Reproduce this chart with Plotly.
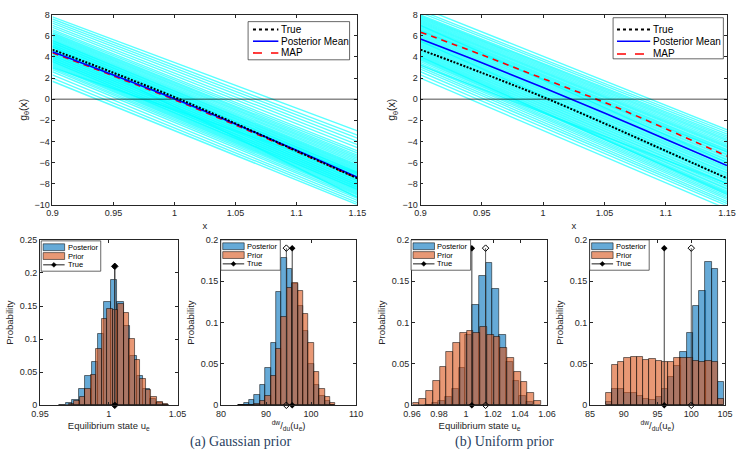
import plotly.graph_objects as go

# ---- top panels: sampled g_theta(x) curves ----
x_grid = [0.9, 0.95, 1.0, 1.05, 1.1, 1.15]
g_true = [4.7, 2.5, 0.2, -2.3, -4.9, -7.5]
g_mean_gauss = [4.5, 2.3, 0.05, -2.35, -4.85, -7.4]
g_map_gauss = [4.4, 2.2, -0.05, -2.45, -4.95, -7.5]
g_mean_unif = [5.7, 3.45, 1.1, -1.3, -3.8, -6.3]
g_map_unif = [6.35, 4.2, 1.95, -0.3, -2.8, -5.4]

# value of each posterior sample at x=0.9 and at x=1.15
samp_start_gauss = [1.7, 2.0, 2.3, 2.6, 2.8, 2.95, 3.1, 3.2, 3.3, 3.4,
                    3.5, 3.55, 3.6, 3.7, 3.75, 3.8, 3.9, 3.95, 4.0, 4.1,
                    4.15, 4.2, 4.3, 4.35, 4.4, 4.5, 4.55, 4.6, 4.7, 4.75,
                    4.8, 4.9, 4.95, 5.0, 5.1, 5.15, 5.2, 5.3, 5.35, 5.4,
                    5.5, 5.55, 5.6, 5.7, 5.8, 5.9, 6.0, 6.1, 6.2, 6.3,
                    6.45, 6.6, 6.8, 7.0, 7.2, 7.4, 7.6, 7.8, 3.0, 5.0]
samp_end_gauss = [-10.0, -9.8, -9.6, -9.4, -9.25, -9.1, -9.0, -8.9, -8.8, -8.7,
                  -8.6, -8.55, -8.5, -8.4, -8.35, -8.3, -8.2, -8.15, -8.1, -8.0,
                  -7.95, -7.9, -7.8, -7.75, -7.7, -7.6, -7.55, -7.5, -7.4, -7.35,
                  -7.3, -7.2, -7.15, -7.1, -7.0, -6.95, -6.9, -6.8, -6.7, -6.6,
                  -6.5, -6.4, -6.3, -6.2, -6.05, -5.9, -5.75, -5.6, -5.45, -5.3,
                  -5.1, -4.9, -4.6, -4.3, -4.0, -3.7, -3.4, -3.0, -7.0, -9.3]
samp_start_unif = [2.0, 2.3, 2.6, 2.85, 3.05, 3.25, 3.4, 3.55, 3.7, 3.8,
                   3.9, 4.0, 4.1, 4.2, 4.3, 4.4, 4.5, 4.6, 4.7, 4.8,
                   4.9, 5.0, 5.1, 5.2, 5.3, 5.4, 5.5, 5.6, 5.7, 5.8,
                   5.9, 6.0, 6.1, 6.2, 6.3, 6.4, 6.5, 6.6, 6.7, 6.8,
                   6.9, 7.0, 7.1, 7.2, 7.3, 7.4, 7.5, 7.6, 7.7, 7.8,
                   7.9, 8.0, 8.2, 8.4, 8.7, 4.0, 5.5, 6.5, 7.0, 3.2]
samp_end_unif = [-10.4, -10.1, -9.9, -9.7, -9.5, -9.35, -9.2, -9.05, -8.9, -8.8,
                 -8.7, -8.55, -8.45, -8.3, -8.2, -8.05, -7.95, -7.8, -7.7, -7.55,
                 -7.45, -7.3, -7.2, -7.05, -6.95, -6.8, -6.7, -6.55, -6.45, -6.3,
                 -6.2, -6.05, -5.95, -5.8, -5.7, -5.55, -5.45, -5.3, -5.2, -5.05,
                 -4.95, -4.85, -4.75, -4.6, -4.5, -4.4, -4.25, -4.1, -3.95, -3.8,
                 -3.65, -3.5, -3.3, -3.1, -2.9, -9.0, -7.5, -5.0, -6.0, -8.0]

# ---- bottom panels: histograms (probability per bin) ----
ue_g_post_bins = [0.9663, 0.9710, 0.9757, 0.9804, 0.9851, 0.9898, 0.9945, 0.9992, 1.0039,
                  1.0086, 1.0133, 1.0180, 1.0227, 1.0274, 1.0321, 1.0368, 1.0415]
ue_g_post = [0.001, 0.003, 0.008, 0.025, 0.045, 0.065, 0.108, 0.157, 0.19,
             0.157, 0.12, 0.075, 0.045, 0.025, 0.01, 0.004, 0.001]
ue_g_prior_bins = [0.973, 0.977, 0.981, 0.985, 0.989, 0.993, 0.997, 1.001, 1.005,
                   1.009, 1.013, 1.017, 1.021, 1.025, 1.029, 1.033, 1.037, 1.041]
ue_g_prior = [0.002, 0.006, 0.012, 0.025, 0.046, 0.085, 0.13, 0.145, 0.144,
              0.153, 0.139, 0.1, 0.068, 0.04, 0.024, 0.012, 0.005, 0.002]

du_g_bins = [84.4, 85.6, 86.8, 88.0, 89.2, 90.4, 91.6, 92.8, 94.0, 95.2,
             96.4, 97.6, 98.8, 100.0, 101.2, 102.4, 103.6, 104.8]
du_g_post = [0.001, 0.003, 0.007, 0.013, 0.025, 0.045, 0.075, 0.137, 0.178, 0.165,
             0.147, 0.12, 0.09, 0.05, 0.025, 0.012, 0.005, 0.001]
du_g_prior = [0.0, 0.0, 0.001, 0.002, 0.005, 0.012, 0.035, 0.068, 0.107, 0.142,
              0.148, 0.138, 0.111, 0.075, 0.04, 0.02, 0.01, 0.003]

ue_u_post_bins = [0.972, 0.977, 0.982, 0.987, 0.992, 0.997, 1.002, 1.007, 1.012,
                  1.017, 1.022, 1.027, 1.032, 1.037, 1.042, 1.047]
ue_u_post = [0.001, 0.003, 0.005, 0.01, 0.02, 0.045, 0.085, 0.121, 0.157,
             0.172, 0.141, 0.085, 0.053, 0.03, 0.012, 0.004]
ue_u_prior_bins = [0.963, 0.968, 0.973, 0.978, 0.983, 0.988, 0.993, 0.998, 1.003, 1.008,
                   1.013, 1.018, 1.023, 1.028, 1.033, 1.038, 1.043, 1.048, 1.053]
ue_u_prior = [0.003, 0.008, 0.017, 0.03, 0.047, 0.064, 0.075, 0.087, 0.09, 0.088,
              0.095, 0.085, 0.083, 0.07, 0.057, 0.04, 0.028, 0.015, 0.005]

du_u_bins = [87.76, 88.69, 89.61, 90.54, 91.46, 92.39, 93.31, 94.24, 95.16, 96.09,
             97.01, 97.94, 98.86, 99.79, 100.71, 101.64, 102.56, 103.49, 104.41]
du_u_post = [0.004, 0.02, 0.02, 0.015, 0.015, 0.012, 0.008, 0.007, 0.01, 0.02,
             0.034, 0.048, 0.064, 0.088, 0.12, 0.138, 0.174, 0.165, 0.028]
du_u_prior = [0.015, 0.049, 0.052, 0.057, 0.059, 0.058, 0.055, 0.056, 0.054, 0.053,
              0.053, 0.057, 0.057, 0.057, 0.054, 0.053, 0.054, 0.053, 0.008]

# true value (filled) and estimate (open) markers: x position and stem height
ue_g_true, ue_g_est, ue_g_top = 1.0044, 1.0044, 0.21
du_g_true, du_g_est, du_g_top = 95.8, 94.5, 0.19
ue_u_true, ue_u_est, ue_u_top = 1.0043, 1.0145, 0.19
du_u_true, du_u_est, du_u_top = 96.0, 100.0, 0.19

FONT = "Liberation Sans, Arial, sans-serif"
AX = "rgb(38,38,38)"
BLUE_F = "rgba(0,114,189,0.6)"
ORANGE_F = "rgba(217,83,25,0.6)"
EDGE = "rgba(0,0,0,0.75)"
W, H = 747, 469

fig = go.Figure()


def add_top(starts, ends, mean, mapv, xa, ya):
    for s, e in zip(starts, ends):
        fig.add_trace(go.Scatter(x=[x_grid[0], x_grid[-1]], y=[s, e], mode="lines",
                                 line=dict(color="rgba(0,255,255,0.65)", width=1.4),
                                 xaxis=xa, yaxis=ya, hoverinfo="skip"))
    fig.add_trace(go.Scatter(x=x_grid, y=mapv, mode="lines", name="MAP", line_shape="spline",
                             line=dict(color="red", width=1.6, dash="6px,5px"),
                             xaxis=xa, yaxis=ya))
    fig.add_trace(go.Scatter(x=x_grid, y=mean, mode="lines", name="Posterior Mean",
                             line_shape="spline", line=dict(color="blue", width=1.6),
                             xaxis=xa, yaxis=ya))
    fig.add_trace(go.Scatter(x=x_grid, y=g_true, mode="lines", name="True", line_shape="spline",
                             line=dict(color="black", width=2, dash="2px,1.5px"),
                             xaxis=xa, yaxis=ya))


def add_hist(pb, pv, pw, rb, rv, rw, true_x, est_x, top, xa, ya):
    fig.add_trace(go.Bar(x=pb, y=pv, width=pw, name="Posterior", xaxis=xa, yaxis=ya,
                         marker=dict(color=BLUE_F, line=dict(color=EDGE, width=0.7))))
    fig.add_trace(go.Bar(x=rb, y=rv, width=rw, name="Prior", xaxis=xa, yaxis=ya,
                         marker=dict(color=ORANGE_F, line=dict(color=EDGE, width=0.7))))
    fig.add_trace(go.Scatter(x=[est_x, est_x], y=[0, top], mode="lines+markers",
                             line=dict(color="rgb(50,50,50)", width=0.8),
                             marker=dict(symbol="diamond-open", size=5, color="black"),
                             xaxis=xa, yaxis=ya, cliponaxis=False))
    fig.add_trace(go.Scatter(x=[true_x, true_x], y=[0, top], mode="lines+markers", name="True",
                             line=dict(color="rgb(40,40,40)", width=0.9),
                             marker=dict(symbol="diamond", size=5, color="black"),
                             xaxis=xa, yaxis=ya, cliponaxis=False))


add_top(samp_start_gauss, samp_end_gauss, g_mean_gauss, g_map_gauss, "x", "y")
add_top(samp_start_unif, samp_end_unif, g_mean_unif, g_map_unif, "x2", "y2")
add_hist(ue_g_post_bins, ue_g_post, 0.0047, ue_g_prior_bins, ue_g_prior, 0.004,
         ue_g_true, ue_g_est, ue_g_top, "x3", "y3")
add_hist(du_g_bins, du_g_post, 1.2, du_g_bins, du_g_prior, 1.2,
         du_g_true, du_g_est, du_g_top, "x4", "y4")
add_hist(ue_u_post_bins, ue_u_post, 0.005, ue_u_prior_bins, ue_u_prior, 0.005,
         ue_u_true, ue_u_est, ue_u_top, "x5", "y5")
add_hist(du_u_bins, du_u_post, 0.925, du_u_bins, du_u_prior, 0.925,
         du_u_true, du_u_est, du_u_top, "x6", "y6")


def axis(domain, rng, dtick, anchor, title, tickvals=None, ticktext=None, tsize=9.5):
    d = dict(domain=domain, range=rng, anchor=anchor, showgrid=False, zeroline=False,
             showline=True, linecolor=AX, linewidth=0.8, mirror="ticks",
             ticks="inside", ticklen=3, tickcolor=AX, tickwidth=0.7,
             ticklabeloverflow="allow",
             tickfont=dict(family=FONT, size=9, color=AX),
             title=dict(text=title, font=dict(family=FONT, size=tsize, color=AX), standoff=4))
    if tickvals is not None:
        d.update(tickmode="array", tickvals=tickvals, ticktext=ticktext)
    else:
        d.update(dtick=dtick, tick0=rng[0])
    return d


top_y = [0.565, 0.9787]
bot_y = [0.1279, 0.4883]
x_top_ticks = [0.9, 0.95, 1.0, 1.05, 1.1, 1.15]
x_top_text = ["0.9", "0.95", "1", "1.05", "1.1", "1.15"]
gtitle = "g<sub>θ</sub>(x)"
du_title = "<sup>dw</sup>/<sub>du</sub>(u<sub>e</sub>)"

fig.update_layout(
    width=W, height=H, margin=dict(l=0, r=0, t=0, b=0),
    paper_bgcolor="white", plot_bgcolor="white", barmode="overlay", bargap=0,
    showlegend=False,
    xaxis=axis([0.0596, 0.4779], [0.9, 1.15], None, "y", "x",
               tickvals=x_top_ticks, ticktext=x_top_text),
    yaxis=axis(top_y, [-10, 8], 2, "x", gtitle, tsize=10.5),
    xaxis2=axis([0.5645, 0.9849], [0.9, 1.15], None, "y2", "x",
                tickvals=x_top_ticks, ticktext=x_top_text),
    yaxis2=axis(top_y, [-10, 8], 2, "x2", gtitle, tsize=10.5),
    xaxis3=axis([0.0424, 0.2312], [0.95, 1.05], None, "y3", "Equilibrium state u<sub>e</sub>",
                tickvals=[0.95, 1.0, 1.05], ticktext=["0.95", "1", "1.05"]),
    yaxis3=axis(bot_y, [0, 0.25], 0.05, "x3", "Probability"),
    xaxis4=axis([0.2909, 0.4762], [80, 110], 10, "y4", du_title),
    yaxis4=axis(bot_y, [0, 0.2], 0.05, "x4", "Probability"),
    xaxis5=axis([0.5529, 0.738], [0.96, 1.06], None, "y5", "Equilibrium state u<sub>e</sub>",
                tickvals=[0.96, 0.98, 1.0, 1.02, 1.04, 1.06],
                ticktext=["0.96", "0.98", "1", "1.02", "1.04", "1.06"]),
    yaxis5=axis(bot_y, [0, 0.2], 0.05, "x5", "Probability"),
    xaxis6=axis([0.7969, 0.9822], [85, 105], 5, "y6", du_title),
    yaxis6=axis(bot_y, [0, 0.2], 0.05, "x6", "Probability"),
)

for xa, ya in [("x", "y"), ("x2", "y2")]:
    fig.add_shape(type="line", xref=xa + " domain", yref=ya, x0=0, x1=1, y0=0, y1=0,
                  line=dict(color="black", width=0.7), layer="above")


# ---- legends drawn by hand (pixel positions -> paper) ----
def px(v):
    return v / W


def py(v):
    return 1 - v / H


def legend(box, rows, sample, text_x, fsize):
    x0, y0, x1, y1 = box
    fig.add_shape(type="rect", xref="paper", yref="paper", x0=px(x0), x1=px(x1),
                  y0=py(y0), y1=py(y1), fillcolor="white",
                  line=dict(color=AX, width=0.7), layer="above")
    sx0, sx1 = sample
    for kind, style, label, ry in rows:
        if kind == "patch":
            fig.add_shape(type="rect", xref="paper", yref="paper", x0=px(sx0), x1=px(sx1),
                          y0=py(ry - 3.5), y1=py(ry + 3.5), fillcolor=style,
                          line=dict(color=EDGE, width=0.7), layer="above")
        else:
            color, width, dash = style
            fig.add_shape(type="line", xref="paper", yref="paper", x0=px(sx0), x1=px(sx1),
                          y0=py(ry), y1=py(ry), line=dict(color=color, width=width, dash=dash),
                          layer="above")
            if kind == "linemarker":
                cx = (sx0 + sx1) / 2
                path = "M %f,%f L %f,%f L %f,%f L %f,%f Z" % (
                    px(cx), py(ry - 2.5), px(cx + 2.5), py(ry), px(cx), py(ry + 2.5),
                    px(cx - 2.5), py(ry))
                fig.add_shape(type="path", xref="paper", yref="paper", path=path,
                              fillcolor="black", line=dict(color="black", width=0.5),
                              layer="above")
        fig.add_annotation(text=label, x=px(text_x), y=py(ry), xref="paper", yref="paper",
                           xanchor="left", yanchor="middle", showarrow=False,
                           font=dict(family=FONT, size=fsize, color="black"))


def top_rows(r):
    return [("line", ("black", 2, "dot"), "True", r[0]),
            ("line", ("blue", 1.6, "solid"), "Posterior Mean", r[1]),
            ("line", ("red", 1.6, "dash"), "MAP", r[2])]


legend((245, 17, 349, 56), top_rows([25, 37, 49]), (250, 276), 277, 10)
legend((619, 13, 732, 55), top_rows([25, 37, 50]), (623, 657), 658, 10)


def hist_rows(top):
    return [("patch", BLUE_F, "Posterior", top + 6.5),
            ("patch", ORANGE_F, "Prior", top + 15.5),
            ("linemarker", ("black", 0.9, "solid"), "True", top + 24.5)]


for lx, ly in [(33, 241), (217, 240), (412, 240), (595, 240)]:
    legend((lx, ly, lx + 61, ly + 31), hist_rows(ly), (lx + 2, lx + 24), lx + 25, 7.5)

fig.add_annotation(text="(a) Gaussian prior", x=0.245, y=0.0256, xref="paper", yref="paper",
                   showarrow=False, font=dict(family="Liberation Serif, serif", size=14))
fig.add_annotation(text="(b) Uniform prior", x=0.751, y=0.0256, xref="paper", yref="paper",
                   showarrow=False, font=dict(family="Liberation Serif, serif", size=14))

fig.write_html("out.html", config={"displayModeBar": False},
               post_script="document.body.style.margin='0';document.body.style.overflow='hidden';")
